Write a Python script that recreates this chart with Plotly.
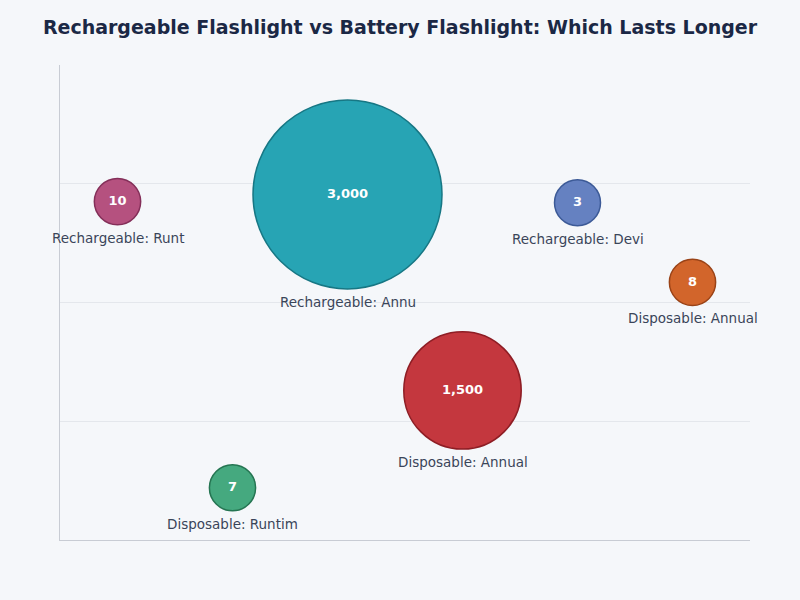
import plotly.graph_objects as go

# Data
labels = ["Rechargeable: Runt", "Disposable: Runtim", "Rechargeable: Annu",
          "Disposable: Annual", "Rechargeable: Devi", "Disposable: Annual"]
x_pos = [0, 1, 2, 3, 4, 5]
y_vals = [2.85, 0.44, 2.91, 1.26, 2.84, 2.17]
values = [10, 7, 3000, 1500, 3, 8]
value_text = ["10", "7", "3,000", "1,500", "3", "8"]

fill_colors = ["#B5517F", "#45A97F", "#27A4B4", "#C4373E", "#6581C1", "#D2652B"]
line_colors = ["#842F59", "#257552", "#177784", "#8E1D24", "#3C5A97", "#9A4317"]

# size mapping (diameter, linear between min and max)
smin, smax = 46, 189
vmin, vmax = min(values), max(values)
sizes = [smin + (v - vmin) / (vmax - vmin) * (smax - smin) for v in values]

fig = go.Figure()
fig.add_trace(go.Scatter(
    x=x_pos, y=y_vals, mode="markers+text",
    text=value_text, textposition="middle center",
    textfont=dict(family="DejaVu Sans", size=13, color="white", weight="bold"),
    marker=dict(size=sizes, sizemode="diameter", color=fill_colors,
                line=dict(color=line_colors, width=1.5), opacity=1),
    hoverinfo="skip", showlegend=False, cliponaxis=False,
))

for xi, yi, lab, s in zip(x_pos, y_vals, labels, sizes):
    fig.add_annotation(x=xi, y=yi, text=lab, showarrow=False,
                       yshift=-(s / 2 + 13), yanchor="middle",
                       font=dict(family="DejaVu Sans", size=13.5, color="#3A4559"))

fig.update_layout(
    width=800, height=600,
    margin=dict(l=60, r=50, t=65, b=60),
    paper_bgcolor="#F5F7FA", plot_bgcolor="#F5F7FA",
    title=dict(text="<b>Rechargeable Flashlight vs Battery Flashlight: Which Lasts Longer</b>",
               x=0.5, xanchor="center", y=0.954, yanchor="middle",
               font=dict(family="DejaVu Sans", size=19, color="#1B2845")),
    xaxis=dict(range=[-0.5, 5.5], showgrid=False, zeroline=False, showticklabels=False,
               ticks="", showline=True, linecolor="#C8CCD4", linewidth=1),
    yaxis=dict(range=[0, 4], tickvals=[1, 2, 3], showgrid=True, gridcolor="#E4E7EC",
               gridwidth=1, zeroline=False, showticklabels=False, ticks="",
               showline=True, linecolor="#C8CCD4", linewidth=1),
)

fig.write_html("out.html")
